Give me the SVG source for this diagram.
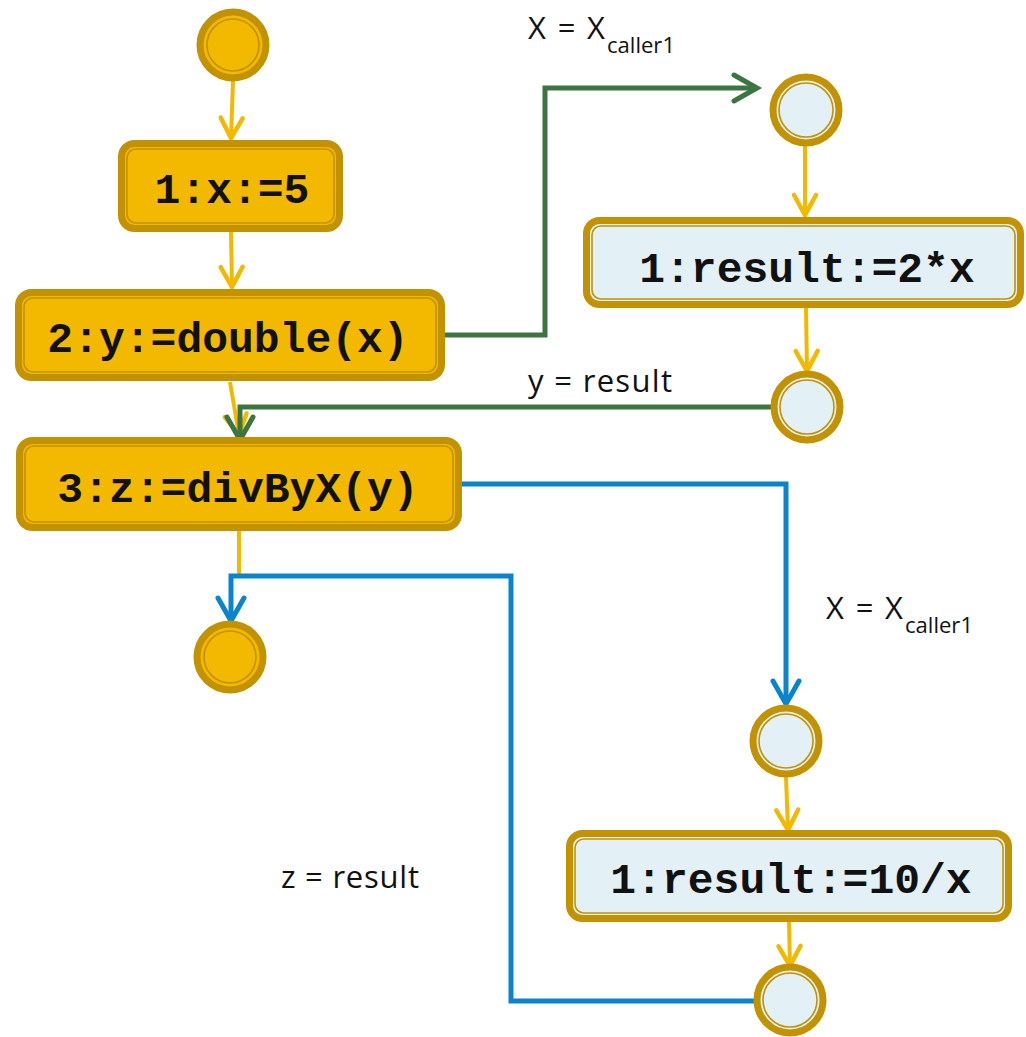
<svg xmlns="http://www.w3.org/2000/svg" width="1026" height="1037" viewBox="0 0 1026 1037">
  <style>
    .edge { fill: none; stroke-linejoin: miter; }
    .flow { stroke: #F2B900; stroke-width: 4; }
    .call { stroke: #3C7541; stroke-width: 5; }
    .ret { stroke: #0A84CB; stroke-width: 5; }
    .rim { stroke: #C29200; stroke-width: 7; }
    .inner { fill: none; stroke: #C29200; stroke-width: 1.6; }
    .gold { fill: #F2B900; }
    .pale { fill: #E3F1F6; }
    .code { font-family: "Liberation Mono", "Courier New", monospace; font-weight: bold; font-size: 43px; fill: #111; text-anchor: middle; }
    .lbl { font-family: "Open Sans", "Noto Sans", sans-serif; font-size: 31px; fill: #111; }
    .sub { font-family: "Open Sans", "Noto Sans", sans-serif; font-size: 22px; fill: #111; }
  </style>
  <defs>
    <marker id="ahFlow" markerUnits="userSpaceOnUse" viewBox="-30 -20 40 40" refX="0" refY="0" markerWidth="40" markerHeight="40" orient="auto" overflow="visible">
      <path d="M-20,-11 L0,0 L-20,11" fill="none" stroke="#F2B900" stroke-width="4.5" stroke-linecap="round"/>
    </marker>
    <marker id="ahCall" markerUnits="userSpaceOnUse" viewBox="-30 -20 40 40" refX="0" refY="0" markerWidth="40" markerHeight="40" orient="auto" overflow="visible">
      <path d="M-23,-13 L0,0 L-23,13" fill="none" stroke="#3C7541" stroke-width="5" stroke-linecap="round"/>
    </marker>
    <marker id="ahRet" markerUnits="userSpaceOnUse" viewBox="-30 -20 40 40" refX="0" refY="0" markerWidth="40" markerHeight="40" orient="auto" overflow="visible">
      <path d="M-23,-13 L0,0 L-23,13" fill="none" stroke="#0A84CB" stroke-width="5" stroke-linecap="round"/>
    </marker>
  </defs>

  <rect width="1026" height="1037" fill="#FFFFFF"/>

  <!-- control flow inside each procedure -->
  <g id="connectors">
    <path class="edge flow" d="M233,81 L231,138" marker-end="url(#ahFlow)"/>
    <path class="edge flow" d="M231,232 L232,287" marker-end="url(#ahFlow)"/>
    <path class="edge flow" d="M230,382 L239,435" marker-end="url(#ahFlow)"/>
    <path class="edge flow" d="M239,531 L239,575"/>
    <path class="edge flow" d="M805,146 L805,215" marker-end="url(#ahFlow)"/>
    <path class="edge flow" d="M806,308 L807,371" marker-end="url(#ahFlow)"/>
    <path class="edge flow" d="M786,777 L788,830" marker-end="url(#ahFlow)"/>
    <path class="edge flow" d="M789,922 L790,966" marker-end="url(#ahFlow)"/>

    <!-- call / return of double -->
    <path class="edge call" d="M445,335 L545,335 L545,88 L757,88" marker-end="url(#ahCall)"/>
    <path class="edge call" d="M773,407 L240,407 L240,440" marker-end="url(#ahCall)"/>

    <!-- call / return of divByX -->
    <path class="edge ret" d="M455,484 L786,484 L786,704" marker-end="url(#ahRet)"/>
    <path class="edge ret" d="M755,1001 L511,1001 L511,576 L231,576 L231,621" marker-end="url(#ahRet)"/>
  </g>

  <!-- main procedure -->
  <g id="start">
    <circle class="gold rim" cx="233" cy="45" r="33"/>
    <circle class="inner" cx="233" cy="45" r="26"/>
  </g>
  <g id="s1">
    <rect class="gold rim" x="121.5" y="143.5" width="218" height="85" rx="13"/>
    <rect class="inner" x="127" y="149" width="207" height="74" rx="9"/>
    <text class="code" x="232" y="203">1:x:=5</text>
  </g>
  <g id="s2">
    <rect class="gold rim" x="18.5" y="292.5" width="423" height="85" rx="13"/>
    <rect class="inner" x="24" y="298" width="412" height="74" rx="9"/>
    <text class="code" x="228" y="352">2:y:=double(x)</text>
  </g>
  <g id="s3">
    <rect class="gold rim" x="19.5" y="440.5" width="439" height="87" rx="13"/>
    <rect class="inner" x="25" y="446" width="428" height="76" rx="9"/>
    <text class="code" x="238" y="502">3:z:=divByX(y)</text>
  </g>
  <g id="end">
    <circle class="gold rim" cx="230" cy="657" r="33"/>
    <circle class="inner" cx="230" cy="657" r="26"/>
  </g>

  <!-- procedure double -->
  <g id="d_start">
    <circle class="pale rim" cx="806" cy="110" r="33"/>
    <circle class="inner" cx="806" cy="110" r="27"/>
  </g>
  <g id="d1">
    <rect class="pale rim" x="586.5" y="220.5" width="434" height="84" rx="13"/>
    <rect class="inner" x="592" y="226" width="423" height="73" rx="9"/>
    <text class="code" x="807" y="282">1:result:=2*x</text>
  </g>
  <g id="d_end">
    <circle class="pale rim" cx="807" cy="407" r="33"/>
    <circle class="inner" cx="807" cy="407" r="27"/>
  </g>

  <!-- procedure divByX -->
  <g id="v_start">
    <circle class="pale rim" cx="786" cy="741" r="33"/>
    <circle class="inner" cx="786" cy="741" r="27"/>
  </g>
  <g id="v1">
    <rect class="pale rim" x="569.5" y="833.5" width="439" height="85" rx="13"/>
    <rect class="inner" x="575" y="839" width="428" height="74" rx="9"/>
    <text class="code" x="791" y="893">1:result:=10/x</text>
  </g>
  <g id="v_end">
    <circle class="pale rim" cx="790" cy="1000" r="33"/>
    <circle class="inner" cx="790" cy="1000" r="27"/>
  </g>

  <!-- parameter bindings -->
  <g id="labels">
    <text class="lbl" x="528" y="39" textLength="77" lengthAdjust="spacing">X = X</text>
    <text class="sub" x="607" y="53" textLength="68" lengthAdjust="spacingAndGlyphs">caller1</text>
    <text class="lbl" x="826" y="619" textLength="77" lengthAdjust="spacing">X = X</text>
    <text class="sub" x="905" y="633" textLength="68" lengthAdjust="spacingAndGlyphs">caller1</text>
    <text class="lbl" x="528" y="392" textLength="144" lengthAdjust="spacing">y = result</text>
    <text class="lbl" x="281" y="888" textLength="138" lengthAdjust="spacing">z = result</text>
  </g>
</svg>
